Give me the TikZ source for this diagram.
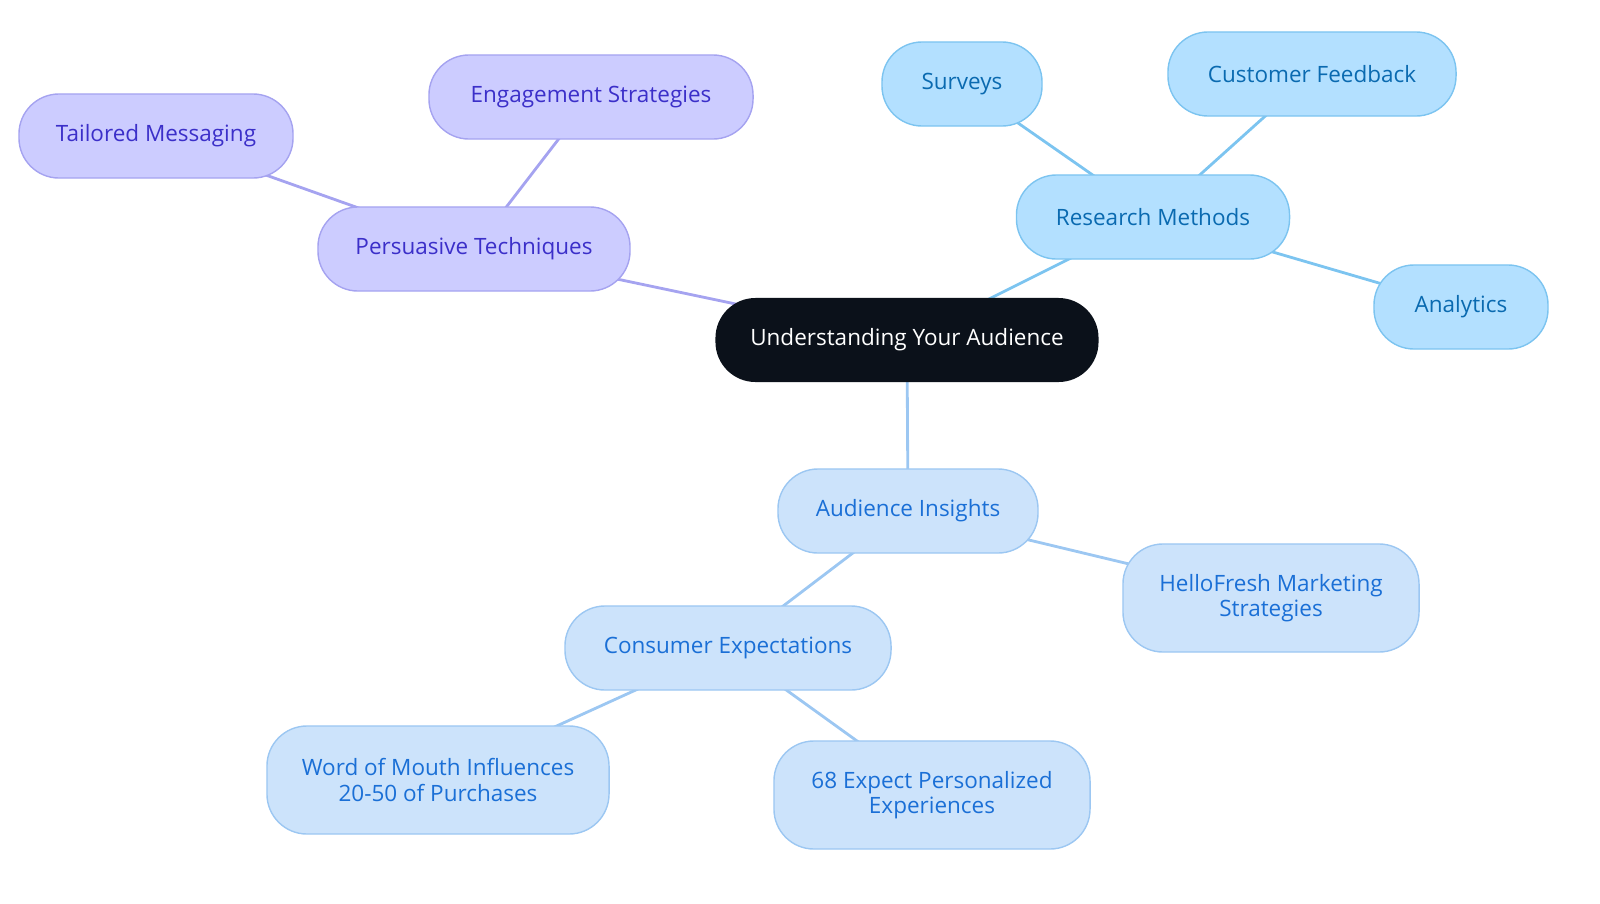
\documentclass[tikz,border=0pt]{standalone}
\usepackage{fontspec}
\setmainfont{Open Sans}
\usetikzlibrary{positioning,backgrounds}
\definecolor{purfill}{HTML}{CCCCFF}
\definecolor{purline}{HTML}{A5A3F0}
\definecolor{purtext}{HTML}{3B2FC9}
\definecolor{resfill}{HTML}{B3E0FF}
\definecolor{resline}{HTML}{7CC4F0}
\definecolor{restext}{HTML}{0A6AB0}
\definecolor{insfill}{HTML}{CCE3FB}
\definecolor{insline}{HTML}{9CC7F2}
\definecolor{instext}{HTML}{1A6FD6}
\definecolor{rootfill}{HTML}{0B111A}
\begin{document}
\begin{tikzpicture}[x=0.025cm,y=-0.025cm,align=center,
  font=\fontsize{16}{18}\selectfont,
  box/.style={rounded corners=1cm,line width=1pt,inner sep=0pt,minimum height=2.1cm},
  pur/.style={box,fill=purfill,draw=purline,text=purtext},
  res/.style={box,fill=resfill,draw=resline,text=restext},
  ins/.style={box,fill=insfill,draw=insline,text=instext},
  pedge/.style={purline,line width=2pt},
  redge/.style={resline,line width=2pt},
  iedge/.style={insline,line width=2pt}]
\useasboundingbox (0,0) rectangle (1600,903);
%% Centre
\node (Root) [box,fill=rootfill,text=white,minimum width=9.575cm] at (907,340) {Understanding Your Audience};
%% Persuasive techniques
\node (Persuasive) [pur,minimum width=7.8cm] at (474,249) {Persuasive Techniques};
\node (Engagement) [pur,minimum width=8.1cm] at (591,97) {Engagement Strategies};
\node (Tailored) [pur,minimum width=6.85cm] at (156,136) {Tailored Messaging};
%% Research methods
\node (Research) [res,minimum width=6.825cm] at (1153,217) {Research Methods};
\node (Surveys) [res,minimum width=4cm] at (962,84) {Surveys};
\node (Feedback) [res,minimum width=7.2cm] at (1312,74) {Customer Feedback};
\node (Analytics) [res,minimum width=4.35cm] at (1461,307) {Analytics};
%% Audience insights
\node (Insights) [ins,minimum width=6.5cm] at (908,511) {Audience Insights};
\node (Expect) [ins,minimum width=8.15cm] at (728,648) {Consumer Expectations};
\node (Fresh) [ins,minimum width=7.4cm,minimum height=2.7cm] at (1271,598) {HelloFresh Marketing\\Strategies};
\node (Mouth) [ins,minimum width=8.55cm,minimum height=2.7cm] at (438,780) {Word of Mouth Influences\\20-50 of Purchases};
\node (Personal) [ins,minimum width=7.9cm,minimum height=2.7cm] at (932,795) {68 Expect Personalized\\Experiences};
%% Connectors
\begin{scope}[on background layer]
\draw[pedge] (Root.center) -- (Persuasive.center);
\draw[pedge] (Persuasive.center) -- (Engagement.center);
\draw[pedge] (Persuasive.center) -- (Tailored.center);
\draw[redge] (Root.center) -- (Research.center);
\draw[redge] (Research.center) -- (Surveys.center);
\draw[redge] (Research.center) -- (Feedback.center);
\draw[redge] (Research.center) -- (Analytics.center);
\draw[iedge] (Root.center) -- (Insights.center);
\draw[iedge] (Insights.center) -- (Expect.center);
\draw[iedge] (Insights.center) -- (Fresh.center);
\draw[iedge] (Expect.center) -- (Mouth.center);
\draw[iedge] (Expect.center) -- (Personal.center);
\end{scope}
\end{tikzpicture}
\end{document}
